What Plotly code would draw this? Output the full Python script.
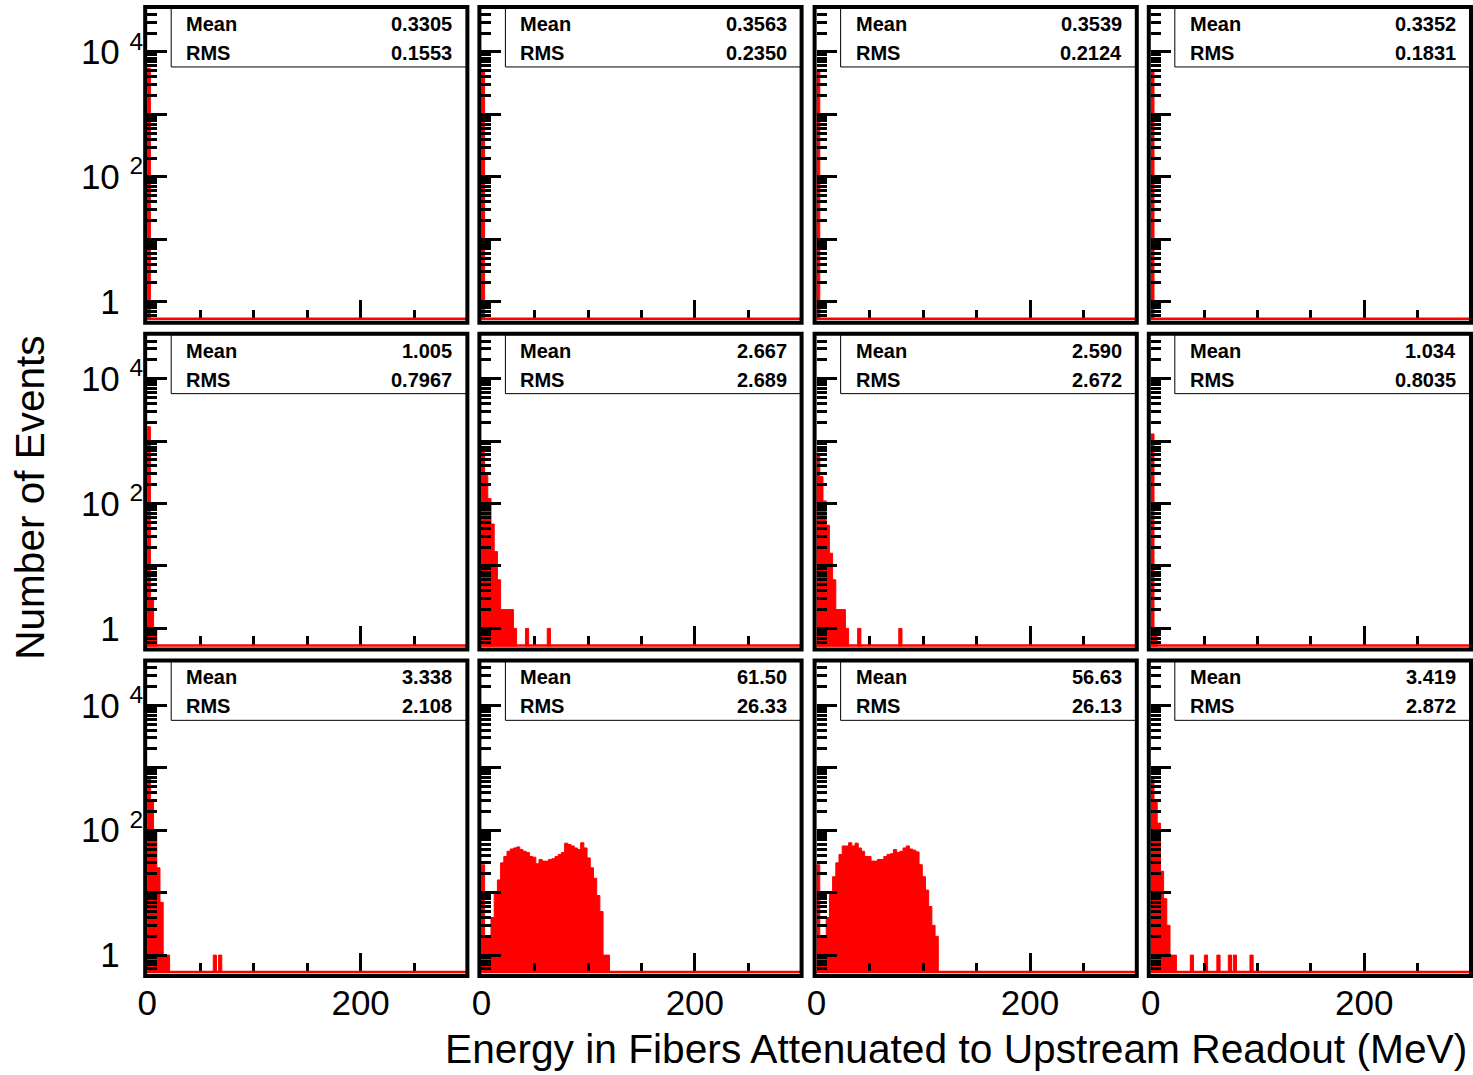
import plotly.graph_objects as go

# ---------------- data ----------------
BIN_WIDTH = 3.0  # MeV per histogram bin

mean_text = [["0.3305", "0.3563", "0.3539", "0.3352"],
             ["1.005", "2.667", "2.590", "1.034"],
             ["3.338", "61.50", "56.63", "3.419"]]
rms_text = [["0.1553", "0.2350", "0.2124", "0.1831"],
            ["0.7967", "2.689", "2.672", "0.8035"],
            ["2.108", "26.33", "26.13", "2.872"]]

# contiguous bin contents starting at 0 MeV (3 MeV bins)
counts_r1c1 = [5500]
counts_r1c2 = [5000]
counts_r1c3 = [5000]
counts_r1c4 = [5000]
counts_r2c1 = [1700, 3, 1]
counts_r2c2 = [660, 280, 120, 47, 17, 6, 2, 2, 2, 2, 1]
counts_r2c3 = [640, 270, 110, 45, 16, 6, 2, 2, 2, 1]
counts_r2c4 = [1300, 1]
counts_r3c1 = [700, 300, 100, 25, 7, 1, 1]
counts_r3c2 = [28, 2, 2, 4, 10, 16, 30, 38, 46, 50, 52, 54, 49, 46, 44, 38, 37, 29,
               34, 32, 32, 34, 35, 38, 41, 44, 62, 59, 56, 52, 49, 63, 52, 36, 25,
               17, 9, 5, 1, 1]
counts_r3c3 = [28, 2, 2, 4, 10, 18, 30, 41, 56, 56, 63, 56, 62, 52, 46, 38, 38, 32,
               32, 34, 34, 38, 41, 42, 49, 44, 46, 52, 56, 50, 48, 45, 28, 18, 11,
               6, 3, 2]
counts_r3c4 = [680, 300, 130, 22, 8, 3, 1, 1]

# isolated single-entry bins (bin centres in MeV)
single_r2c2 = [42.8, 63.2]
single_r2c3 = [40.0, 78.5]
single_r3c1 = [63.4, 68.4]
single_r3c4 = [38.5, 51.7, 63.4, 74.1, 78.8, 94.4]

panel_counts = [[counts_r1c1, counts_r1c2, counts_r1c3, counts_r1c4],
                [counts_r2c1, counts_r2c2, counts_r2c3, counts_r2c4],
                [counts_r3c1, counts_r3c2, counts_r3c3, counts_r3c4]]
panel_single = [[[], [], [], []],
                [[], single_r2c2, single_r2c3, []],
                [single_r3c1, [], [], single_r3c4]]

y_tickvals = [1, 10, 100, 1000, 10000]
x_tickvals = [0, 200]
x_minor = [50, 100, 150, 250]

# ---------------- layout geometry ----------------
W, H = 1473, 1075
# horizontal correction measured from the rendered page
HX_SCALE, HX_SHIFT = 0.9926, 10.9

def sx(x):
    return (x - HX_SHIFT) / HX_SCALE

COL_X = [148, 482, 817, 1151]
ROW_Y = [8, 335, 662]
PW, PH = 320, 312
Y_RANGE = [-0.288, 4.704]
FONT = "Liberation Sans, Arial, Helvetica, sans-serif"
RED = "#ff0000"

y_minor = [m * 10 ** e for e in range(-1, 5) for m in range(2, 10)]
y_minor = [v for v in y_minor if 0.52 < v < 5.0e4]

invis = "<span style='color:rgba(0,0,0,0)'>4</span>"
y_ticktext = ["1\u00a0<sup>" + invis + "</sup>", "", "10\u00a0<sup>2</sup>", "",
              "10\u00a0<sup>4</sup>"]

fig = go.Figure()
layout = {}
shapes = []
annotations = []

def px(x):
    return sx(x) / W

def py(y):
    return 1 - y / H

for r in range(3):
    for c in range(4):
        i = r * 4 + c + 1
        sfx = "" if i == 1 else str(i)
        x0, y0 = COL_X[c], ROW_Y[r]
        cnts = panel_counts[r][c]
        singles = panel_single[r][c]
        xs = [BIN_WIDTH * (k + 0.5) for k in range(len(cnts))] + singles
        ys = list(cnts) + [1] * len(singles)
        fig.add_trace(go.Bar(x=xs, y=ys, width=BIN_WIDTH,
                             marker=dict(color=RED, line=dict(color=RED, width=1)),
                             xaxis="x" + sfx, yaxis="y" + sfx,
                             showlegend=False, hoverinfo="skip"))
        layout["xaxis" + sfx] = dict(
            domain=[px(x0), px(x0 + PW)], anchor="y" + sfx, range=[0, 300],
            tickmode="array", tickvals=x_tickvals, ticktext=["0", "200"],
            ticks="inside", ticklen=20, tickwidth=3, tickcolor="black",
            minor=dict(tickmode="array", tickvals=x_minor, ticks="inside",
                       ticklen=10, tickwidth=3, tickcolor="black", showgrid=False),
            showticklabels=(r == 2), ticklabelstandoff=6,
            tickfont=dict(family=FONT, size=35, color="black"),
            showline=False, showgrid=False, zeroline=False, fixedrange=True)
        layout["yaxis" + sfx] = dict(
            domain=[py(y0 + PH), py(y0)], anchor="x" + sfx, type="log",
            range=Y_RANGE, tickmode="array", tickvals=y_tickvals,
            ticktext=y_ticktext, ticks="inside", ticklen=20, tickwidth=3,
            tickcolor="black",
            minor=dict(tickmode="array", tickvals=y_minor, ticks="inside",
                       ticklen=10, tickwidth=2.5, tickcolor="black", showgrid=False),
            showticklabels=(c == 0), ticklabelstandoff=3,
            tickfont=dict(family=FONT, size=35, color="black"),
            showline=False, showgrid=False, zeroline=False, fixedrange=True)
        # red empty-bin baseline
        shapes.append(dict(type="line", xref="paper", yref="paper",
                           x0=px(x0), x1=px(x0 + PW), y0=py(y0 + PH - 1),
                           y1=py(y0 + PH - 1), line=dict(color=RED, width=2.5),
                           layer="above"))
        # stats box
        shapes.append(dict(type="rect", xref="paper", yref="paper",
                           x0=px(x0 + 24), x1=px(x0 + PW), y0=py(y0 + 59),
                           y1=py(y0), fillcolor="white",
                           line=dict(color="black", width=1), layer="above"))
        # pad frame
        shapes.append(dict(type="rect", xref="paper", yref="paper",
                           x0=px(x0 - 2), x1=px(x0 + PW), y0=py(y0 + PH + 3),
                           y1=py(y0 - 1), fillcolor="rgba(0,0,0,0)",
                           line=dict(color="black", width=4), layer="above"))
        for lab, val, dy in (("Mean", mean_text[r][c], 16), ("RMS", rms_text[r][c], 45)):
            annotations.append(dict(text="<b>" + lab + "</b>", xref="paper", yref="paper",
                                    x=px(x0 + 37), y=py(y0 + dy), xanchor="left",
                                    yanchor="middle", showarrow=False,
                                    font=dict(family=FONT, size=20, color="black")))
            annotations.append(dict(text="<b>" + val + "</b>", xref="paper", yref="paper",
                                    x=px(x0 + 307), y=py(y0 + dy), xanchor="right",
                                    yanchor="middle", showarrow=False,
                                    font=dict(family=FONT, size=20, color="black")))

annotations.append(dict(text="Energy in Fibers Attenuated to Upstream Readout (MeV)",
                        xref="paper", yref="paper", x=px(1469), y=py(1050),
                        xanchor="right", yanchor="middle", showarrow=False,
                        font=dict(family=FONT, size=40.7, color="black")))
annotations.append(dict(text="Number of Events", xref="paper", yref="paper",
                        x=px(30), y=py(498), xanchor="center", yanchor="middle",
                        textangle=-90, showarrow=False,
                        font=dict(family=FONT, size=40.5, color="black")))

fig.update_layout(width=W, height=H, margin=dict(l=0, r=0, t=0, b=0),
                  paper_bgcolor="white", plot_bgcolor="white",
                  shapes=shapes, annotations=annotations, barmode="overlay",
                  **layout)
fig.write_html("out.html", config={"displayModeBar": False},
               post_script="document.body.style.margin='0';"
                           "document.body.style.overflow='hidden';")
